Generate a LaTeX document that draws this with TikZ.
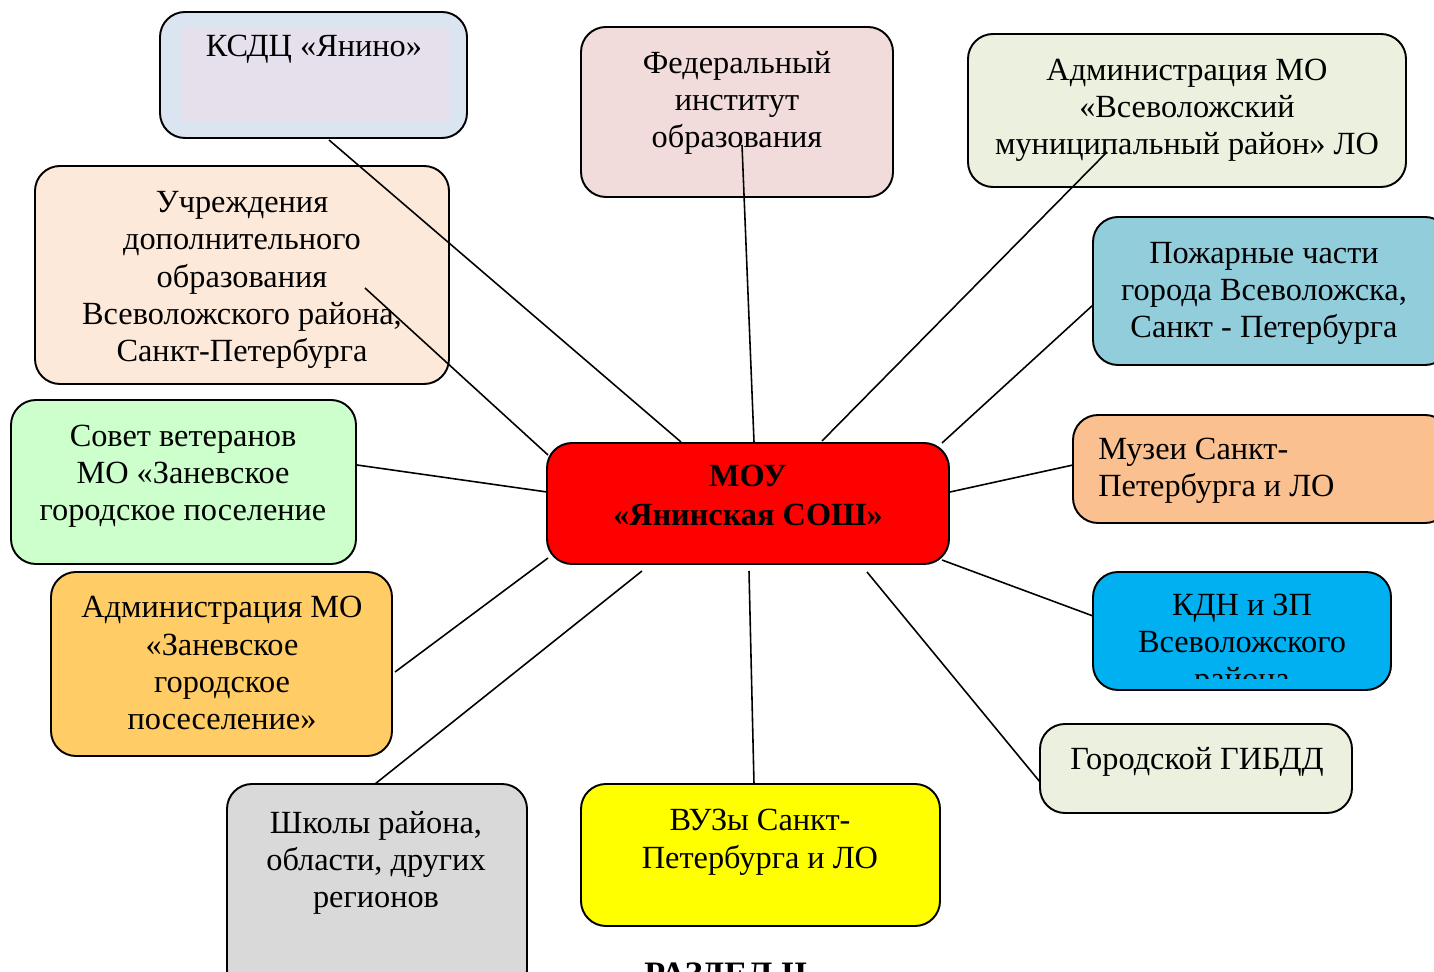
\documentclass[tikz,border=0pt]{standalone}
\usepackage{fontspec}
\setmainfont{Liberation Serif}
\usetikzlibrary{fit}

\definecolor{ksdcblue}{HTML}{DBE5F1}
\definecolor{ksdclilac}{HTML}{E5E0EC}
\definecolor{fiopink}{HTML}{F2DCDB}
\definecolor{admgreen}{HTML}{EBF1DE}
\definecolor{pozhblue}{HTML}{92CDDC}
\definecolor{muzorange}{HTML}{FAC090}
\definecolor{kdnblue}{HTML}{00B0F0}
\definecolor{vuzyellow}{HTML}{FFFF00}
\definecolor{shkgrey}{HTML}{D9D9D9}
\definecolor{zanorange}{HTML}{FFCC66}
\definecolor{sovetgreen}{HTML}{CCFFCC}
\definecolor{uchrpeach}{HTML}{FDE9D9}

\begin{document}
\begin{tikzpicture}[
  x=0.02cm, y=-0.02cm,
  box/.style={rectangle, rounded corners=0.5cm, draw=black, line width=1.1pt, inner sep=0pt},
  txt/.style={inner sep=0pt, align=center, anchor=base, font=\fontsize{18.4}{21.3}\selectfont},
  link/.style={draw=black, line width=0.9pt}
]
\useasboundingbox (0,0) rectangle (1434,972);

% boxes
\node[box, fill=ksdcblue, fit={(160,12) (467,138)}] (ksdc) {};
\node[fill=ksdclilac, inner sep=0pt, fit={(181,27) (450,122)}] (ksdc-in) {};
\node[box, fill=fiopink, fit={(581,27) (893,197)}] (fio) {};
\node[box, fill=admgreen, fit={(968,34) (1406,187)}] (admvs) {};
\node[box, fill=pozhblue, fit={(1093,217) (1450,365)}] (pozh) {};
\node[box, fill=muzorange, fit={(1073,415) (1450,523)}] (muz) {};
\node[box, fill=kdnblue, fit={(1093,572) (1391,690)}] (kdn) {};
\node[box, fill=admgreen, fit={(1040,724) (1352,813)}] (gibdd) {};
\node[box, fill=vuzyellow, fit={(581,784) (940,926)}] (vuz) {};
\node[box, fill=shkgrey, fit={(227,784) (527,995)}] (shk) {};
\node[box, fill=zanorange, fit={(51,572) (392,756)}] (admzan) {};
\node[box, fill=sovetgreen, fit={(11,400) (356,564)}] (sovet) {};
\node[box, fill=uchrpeach, fit={(35,166) (449,384)}] (uchr) {};
\node[box, fill=red, fit={(547,443) (949,564)}] (moy) {};

% texts (placed at the baseline of their last line)
\node[txt] (ksdc-t) at (314,57) {КСДЦ «Янино»};
\node[txt] (fio-t) at (737,148) {Федеральный\\институт\\образования};
\node[txt] (admvs-t) at (1187,155) {Администрация МО\\«Всеволожский\\муниципальный район» ЛО};
\node[txt] (pozh-t) at (1264,338) {Пожарные части\\города Всеволожска,\\Санкт - Петербурга};
\node[txt, align=left, anchor=base west] (muz-t) at (1098,497) {Музеи Санкт-\\Петербурга и ЛО};
\begin{scope}
  \clip (1093,572) rectangle (1391,679);
  \node[txt] (kdn-t) at (1242,690) {КДН и ЗП\\Всеволожского\\района};
\end{scope}
\node[txt] (gibdd-t) at (1197,770) {Городской ГИБДД};
\node[txt] (vuz-t) at (760,868) {ВУЗы Санкт-\\Петербурга и ЛО};
\node[txt] (shk-t) at (376,908) {Школы района,\\области, других\\регионов};
\node[txt] (admzan-t) at (222,730) {Администрация МО\\«Заневское\\городское\\посеселение»};
\node[txt] (sovet-t) at (183,521) {Совет ветеранов\\МО «Заневское\\городское поселение};
\node[txt] (uchr-t) at (242,362) {Учреждения\\дополнительного\\образования\\Всеволожского района,\\Санкт-Петербурга};
\node[txt, font=\bfseries\fontsize{18.4}{22.3}\selectfont] (moy-t) at (748,526) {МОУ\\«Янинская СОШ»};
\node[txt, font=\bfseries\fontsize{19.5}{21.3}\selectfont] (razdel) at (726,985) {РАЗДЕЛ II};

% connector ends
\coordinate (ksdc-p) at (329,140);   \coordinate (moy-ksdc) at (681,442);
\coordinate (uchr-p) at (365,288);   \coordinate (moy-uchr) at (548,455);
\coordinate (fio-p) at (742,145);    \coordinate (moy-fio) at (754,442);
\coordinate (admvs-p) at (1107,152); \coordinate (moy-admvs) at (822,441);
\coordinate (pozh-p) at (1093,305);  \coordinate (moy-pozh) at (942,443);
\coordinate (sovet-p) at (357,465);  \coordinate (moy-sovet) at (547,492);
\coordinate (muz-p) at (1073,465);   \coordinate (moy-muz) at (950,492);
\coordinate (kdn-p) at (1093,616);   \coordinate (moy-kdn) at (942,560);
\coordinate (admzan-p) at (395,672); \coordinate (moy-admzan) at (548,558);
\coordinate (shk-p) at (375,784);    \coordinate (moy-shk) at (642,571);
\coordinate (vuz-p) at (754,784);    \coordinate (moy-vuz) at (749,571);
\coordinate (gibdd-p) at (1040,782); \coordinate (moy-gibdd) at (867,572);

% connectors
\draw[link] (ksdc-p) -- (moy-ksdc);
\draw[link] (uchr-p) -- (moy-uchr);
\draw[link] (fio-p) -- (moy-fio);
\draw[link] (admvs-p) -- (moy-admvs);
\draw[link] (pozh-p) -- (moy-pozh);
\draw[link] (sovet-p) -- (moy-sovet);
\draw[link] (muz-p) -- (moy-muz);
\draw[link] (kdn-p) -- (moy-kdn);
\draw[link] (admzan-p) -- (moy-admzan);
\draw[link] (shk-p) -- (moy-shk);
\draw[link] (vuz-p) -- (moy-vuz);
\draw[link] (gibdd-p) -- (moy-gibdd);

\end{tikzpicture}
\end{document}
